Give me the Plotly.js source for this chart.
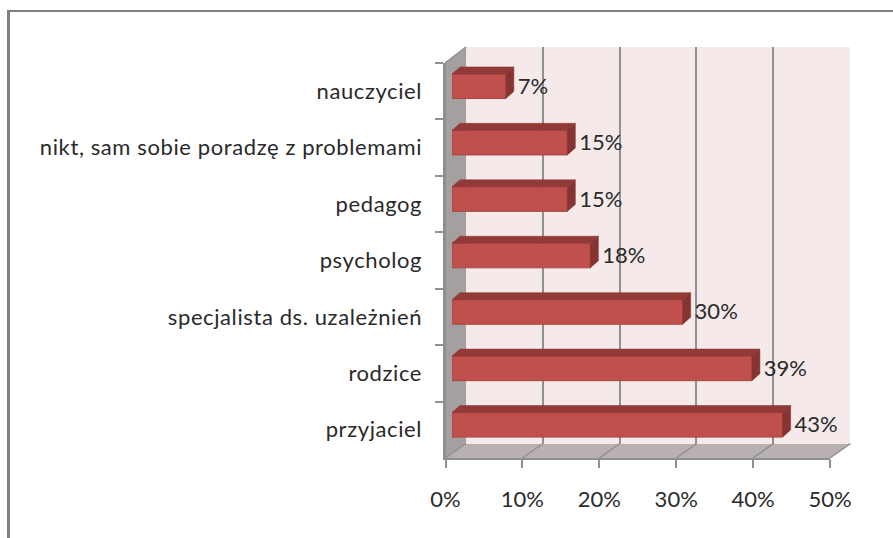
<!DOCTYPE html>
<html>
<head>
<meta charset="utf-8">
<script src="https://cdn.plot.ly/plotly-3.0.1.min.js"></script>
<style>html,body{margin:0;padding:0;background:#fff;overflow:hidden}#c{width:893px;height:538px}.y2tick text{letter-spacing:.6px}</style>
</head>
<body>
<div id="c"></div>
<script>
const categories = ["nauczyciel","nikt, sam sobie poradzę z problemami","pedagog","psycholog","specjalista ds. uzależnień","rodzice","przyjaciel"];
const values = [7,15,15,18,30,39,43];
const labels = ["7%","15%","15%","18%","30%","39%","43%"];
const tickValues = [0,10,20,30,40,50];
const tickLabels = ["0%","10%","20%","30%","40%","50%"];

const W=893,H=538;
const px=x=>x/W, py=y=>1-y/H;
const FONT='Lato, "Open Sans", sans-serif', TXT='#2a2a2a', LINE='#8f8f8f';
const halfBar=0.218, depthX=1.04, depthY=0.124;

const topX=[],topY=[],sideX=[],sideY=[];
values.forEach((v,i)=>{
  const t=i-halfBar,b=i+halfBar;
  topX.push(0,depthX,v+depthX,v,0,null);
  topY.push(t,t-depthY,t-depthY,t,t,null);
  sideX.push(v,v+depthX,v+depthX,v,v,null);
  sideY.push(t,t-depthY,b-depthY,b,t,null);
});
const idx=categories.map((_,i)=>i);

const traces=[
 {type:'scatter',mode:'none',x:[0,50],y:[0,1],xaxis:'x',yaxis:'y',hoverinfo:'skip',showlegend:false},
 {type:'scatter',mode:'none',x:values,y:categories,xaxis:'x2',yaxis:'y2',hoverinfo:'skip',showlegend:false},
 {type:'bar',orientation:'h',x:values,y:idx,width:halfBar*2,xaxis:'x3',yaxis:'y3',showlegend:false,
  marker:{color:'#c0504d',line:{color:'#a94440',width:1}}},
 {type:'scatter',mode:'lines',x:topX,y:topY,fill:'toself',fillcolor:'#933a38',line:{color:'#8a3533',width:0.5},xaxis:'x3',yaxis:'y3',showlegend:false,hoverinfo:'skip'},
 {type:'scatter',mode:'lines',x:sideX,y:sideY,fill:'toself',fillcolor:'#863432',line:{color:'#863432',width:0.5},xaxis:'x3',yaxis:'y3',showlegend:false,hoverinfo:'skip'},
 {type:'scatter',mode:'text',x:values.map(v=>v+1.55),y:idx.map(i=>i+0.035),text:labels,textposition:'middle right',cliponaxis:false,
  textfont:{family:FONT,size:22,color:TXT},xaxis:'x3',yaxis:'y3',showlegend:false,hoverinfo:'skip'}
];

const floorLines=tickValues.map(t=>{
  const x0=445.5+t*7.69;
  return {type:'line',xref:'paper',yref:'paper',x0:px(x0),y0:py(458),x1:px(x0+20.5),y1:py(443.5),line:{color:LINE,width:1.5},layer:'below'};
});
const poly=(pts,fill,lc,lw)=>({type:'path',xref:'paper',yref:'paper',layer:'below',fillcolor:fill,line:{color:lc||fill,width:lw||0},
  path:'M'+pts.map(p=>px(p[0])+','+py(p[1])).join('L')+'Z'});

const shapes=[
 poly([[466,47],[850,47],[850,444],[466,444]],'#f5e9e9'),
 poly([[445,458],[830,458],[850,444],[466,444]],'#b9b1b1'),
 poly([[445,63],[466,47],[466,444],[445,458]],'#a5a0a0'),
 {type:'line',xref:'paper',yref:'paper',layer:'below',x0:px(445),y0:py(63),x1:px(466),y1:py(47),line:{color:LINE,width:1.5}},
 {type:'rect',xref:'paper',yref:'paper',layer:'below',x0:px(7),x1:px(10),y0:0,y1:py(10),fillcolor:'#808080',line:{width:0}},
 {type:'rect',xref:'paper',yref:'paper',layer:'below',x0:px(7),x1:1,y0:py(10),y1:py(12),fillcolor:'#808080',line:{width:0}}
].concat(floorLines);

const layout={
 width:W,height:H,margin:{l:0,r:0,t:0,b:0},paper_bgcolor:'#fff',plot_bgcolor:'rgba(0,0,0,0)',showlegend:false,
 shapes:shapes,
 xaxis:{domain:[px(466),px(850)],range:[0,50],anchor:'y',tickvals:tickValues,showgrid:true,gridcolor:'#8f9292',gridwidth:2,showticklabels:false,ticks:'',zeroline:false,showline:false,fixedrange:true},
 yaxis:{domain:[py(444),py(47)],range:[0,1],anchor:'x',visible:false,fixedrange:true},
 xaxis2:{domain:[px(445.5),px(830)],range:[0,50],anchor:'y2',tickvals:tickValues,ticktext:tickLabels,ticks:'outside',ticklen:8,tickwidth:2,tickcolor:LINE,
   showline:true,linecolor:LINE,linewidth:2,showgrid:false,zeroline:false,ticklabelstandoff:13,tickfont:{family:FONT,size:22,color:TXT},fixedrange:true},
 yaxis2:{domain:[py(458),py(63)],anchor:'x2',type:'category',categoryorder:'array',categoryarray:categories,range:[6.5,-0.5],tickson:'boundaries',
   ticks:'outside',ticklen:8,tickwidth:2,tickcolor:LINE,showline:true,linecolor:LINE,linewidth:3,showgrid:false,zeroline:false,ticklabelstandoff:16,tickfont:{family:FONT,size:22,color:TXT},fixedrange:true},
 xaxis3:{domain:[px(452),px(836.5)],range:[0,50],anchor:'y3',visible:false,fixedrange:true},
 yaxis3:{domain:[py(453),py(58)],range:[6.5,-0.5],anchor:'x3',visible:false,fixedrange:true}
};
Plotly.newPlot('c',traces,layout,{displayModeBar:false,responsive:false});
</script>
</body>
</html>
